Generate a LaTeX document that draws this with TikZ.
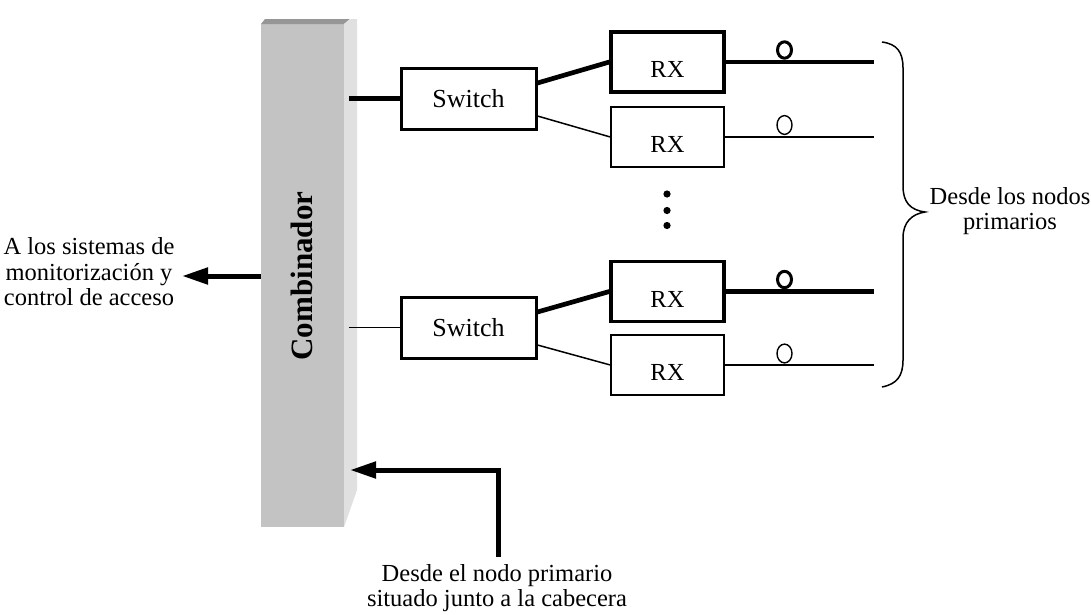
\documentclass[tikz,border=0pt]{standalone}
\usepackage{fontspec}
\setmainfont{Liberation Serif}
\usetikzlibrary{arrows.meta}
\definecolor{barfront}{RGB}{195,195,195}
\definecolor{barside}{RGB}{224,224,224}
\definecolor{bartop}{RGB}{150,150,150}
\tikzset{
  txt/.style={font=\fontsize{24.5}{25.5}\selectfont, align=center, inner sep=0pt},
  swbox/.style={draw, line width=3pt, minimum width=135pt, minimum height=61pt,
    inner sep=0pt, font=\fontsize{26}{27}\selectfont},
  rxheavy/.style={draw, line width=3.3pt, minimum width=113pt, minimum height=60pt,
    inner sep=0pt, text height=31pt, text depth=0pt, font=\fontsize{24.5}{25.5}\selectfont},
  rxlight/.style={rxheavy, line width=1.4pt},
  heavy/.style={line width=4.7pt},
  light/.style={line width=1.5pt},
  bigarrow/.style={line width=5pt, -{Triangle[length=26pt,width=16pt]}},
}
\begin{document}
\begin{tikzpicture}[x=1pt,y=-1pt]
\useasboundingbox (0,0) rectangle (1091,614);

% combiner bar: front face, top face and side face
\node[fill=barfront, minimum width=83pt, minimum height=503pt, inner sep=0pt]
  (comb) at (302.5,275.5) {};
\fill[bartop] (261,24) -- (265,19) -- (350,19) -- (344,24) -- cycle;
\fill[barside] (344,24) -- (350,19) -- (357,19) -- (357,490) -- (344,527) -- cycle;
\node[rotate=90, inner sep=0pt, font=\bfseries\fontsize{31}{31}\selectfont]
  (combtxt) at (302,276) {Combinador};

% switches
\node[swbox] (sw1) at (468.5,98.5) {Switch};
\node[swbox] (sw2) at (468.5,327.5) {Switch};

% receivers
\node[rxheavy] (r1) at (667.5,62) {RX};
\node[rxlight] (r2) at (667.5,137) {RX};
\node[rxheavy] (r3) at (667.5,291.5) {RX};
\node[rxlight] (r4) at (667.5,365) {RX};

% bar to switches
\coordinate (b1) at (349,98.5);
\coordinate (b2) at (349,327.5);
\draw[heavy] (b1) -- (sw1.west);
\draw[light] (b2) -- (sw2.west);

% switches to receivers
\draw[heavy] ([yshift=15.5pt]sw1.east) -- (r1.west);
\draw[light] ([yshift=-17.5pt]sw1.east) -- (r2.west);
\draw[heavy] ([yshift=15.5pt]sw2.east) -- (r3.west);
\draw[light] ([yshift=-17.5pt]sw2.east) -- (r4.west);

% incoming fibres
\coordinate (o1) at (874,62);
\coordinate (o2) at (874,137);
\coordinate (o3) at (874,291.5);
\coordinate (o4) at (874,365);
\draw[heavy] (r1.east) -- (o1);
\draw[light] (r2.east) -- (o2);
\draw[heavy] (r3.east) -- (o3);
\draw[light] (r4.east) -- (o4);

% fibre loops
\draw[line width=3pt] (784.5,50) ellipse [x radius=7, y radius=8.2];
\draw[line width=1.4pt] (784.5,125) ellipse [x radius=7.5, y radius=9.4];
\draw[line width=3pt] (784.5,279.5) ellipse [x radius=7, y radius=8.2];
\draw[line width=1.4pt] (784.5,353.5) ellipse [x radius=7.5, y radius=9.4];

% vertical ellipsis
\fill (667,194) circle (3.6);
\fill (667,210.5) circle (3.6);
\fill (667,225.5) circle (3.6);

% brace grouping the inputs
\draw[line width=1.5pt] (882,42) .. controls (897,44) and (903,52) .. (903,68)
  -- (903,186) .. controls (903,202) and (910,210) .. (925,212)
  .. controls (912,214) and (903,222) .. (903,238)
  -- (903,360) .. controls (903,376) and (897,384) .. (882,387);
\node[txt] (prim) at (1010,211) {Desde los nodos\\primarios};

% output to monitoring
\node[txt] (mon) at (89,272) {A los sistemas de\\monitorización y\\control de acceso};
\coordinate (outL) at (182,276);
\draw[bigarrow] (comb.west |- outL) -- (outL);

% input from the head-end primary node
\node[txt] (head) at (497,588) {Desde el nodo primario\\situado junto a la cabecera};
\coordinate (src) at (498,557);
\coordinate (inB) at (350,470);
\draw[bigarrow] (src) |- (inB);
\end{tikzpicture}
\end{document}
